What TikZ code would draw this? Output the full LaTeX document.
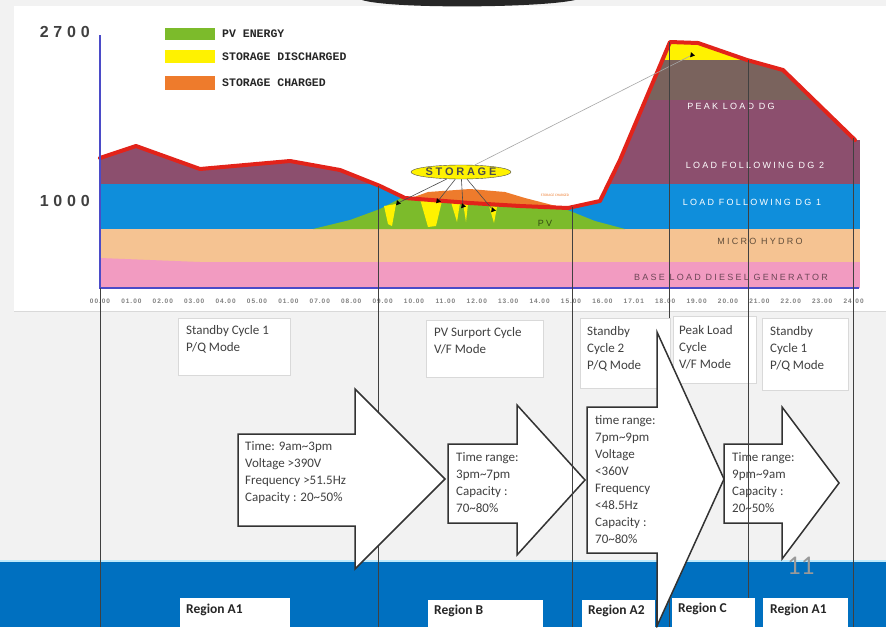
\documentclass[tikz,border=0pt]{standalone}
\usepackage{fontspec}
\setmainfont{Carlito}
\newfontfamily\chartfont[LetterSpace=25]{Liberation Sans}
\newfontfamily\numfont[LetterSpace=30]{Liberation Sans}
\newfontfamily\tickfont[LetterSpace=15]{Liberation Sans}
\newfontfamily\legfont{Liberation Mono}
\usetikzlibrary{shapes.geometric}
\definecolor{bggray}{HTML}{F2F2F2}
\definecolor{pvgreen}{HTML}{7CBB2B}
\definecolor{disyellow}{HTML}{FFF200}
\definecolor{chgorange}{HTML}{EE7B2C}
\definecolor{peakbrown}{HTML}{7A635D}
\definecolor{dgtwo}{HTML}{8C4F6E}
\definecolor{dgone}{HTML}{0F8EDB}
\definecolor{hydro}{HTML}{F5C392}
\definecolor{baseload}{HTML}{F29BC1}
\definecolor{loadred}{HTML}{E2231A}
\definecolor{axisblue}{HTML}{4B4BC8}
\definecolor{bandblue}{HTML}{0070C0}
\definecolor{txtgray}{HTML}{404040}

\begin{document}
\begin{tikzpicture}[x=1pt,y=-1pt,
  cycbox/.style={draw=black!15,fill=white,anchor=north west,inner sep=0},
  cyctext/.style={anchor=north west,align=left,inner sep=0,text=txtgray,font=\fontsize{13}{17}\selectfont},
  arrowbox/.style={draw=black!80,fill=white,line width=1.5pt,line join=miter},
  regbox/.style={fill=white,anchor=north west,inner sep=0},
  regtext/.style={anchor=north west,inner sep=0,text=black!85,font=\fontsize{13.5}{14}\selectfont\bfseries},
  marker/.style={regular polygon,regular polygon sides=3,shape border rotate=-100,fill=black,inner sep=0,minimum size=6pt},
  layer/.style={inner sep=0,font=\chartfont\fontsize{9}{10}\selectfont},
  leg/.style={anchor=west,inner sep=0,text=black!85,font=\legfont\fontsize{11.5}{12}\selectfont\bfseries},
  tick/.style={inner sep=0,text=black!50,font=\tickfont\fontsize{6.5}{7}\selectfont\bfseries},
  vline/.style={black!75,line width=0.9pt}]
\useasboundingbox (0,0) rectangle (886,627);
\fill[bggray] (0,0) rectangle (886,627);
\fill[white] (14,6) rectangle (886,311);
\draw[black!15] (14,311) -- (886,311);
\fill[black!85] (362,0) .. controls (390,9) and (540,8) .. (575,0) -- cycle;
\fill[bandblue] (0,562) rectangle (886,627);
\draw[cyan!25,line width=1.5pt] (0,561) -- (886,561);

\begin{scope}
\clip (100,288) -- (100,158) -- (136,146) -- (200,169) -- (290,161) -- (340,170) -- (380,186) -- (405,198) -- (470,203) -- (520,206) -- (568,208) -- (600,201) -- (620,160) -- (670,42) -- (698,43) -- (747,60) -- (783,70) -- (855,140) -- (860,140) -- (860,288) -- cycle;
\fill[disyellow] (600,20) rectangle (860,60);
\fill[peakbrown] (600,60) rectangle (860,130);
\fill[dgtwo] (100,100) rectangle (860,184);
\fill[dgone] (100,184) rectangle (860,229);
\fill[hydro] (100,229) rectangle (860,262);
\fill[baseload] (100,258) -- (200,262) -- (860,262) -- (860,288) -- (100,288) -- cycle;
\fill[pvgreen] (313,229) -- (350,220) -- (380,209) -- (405,196) -- (405,150) -- (555,150) -- (560,207) -- (595,221) -- (625,229) -- cycle;
\fill[disyellow] (384,206) -- (396,204) -- (392,226) -- (388,224) -- cycle;
\fill[disyellow] (420,199) -- (442,201) -- (436,226) -- (428,227) -- cycle;
\fill[disyellow] (451,202) -- (460,203) -- (457,222) -- cycle;
\fill[disyellow] (463,203) -- (468,204) -- (466,222) -- cycle;
\fill[disyellow] (489,206) -- (497,207) -- (494,223) -- cycle;
\end{scope}
\fill[chgorange] (414,197) -- (428,192) -- (470,189) -- (505,192) -- (525,198) -- (556,206) -- (520,206) -- (470,203) -- cycle;
\draw[loadred,line width=4pt,line join=round,line cap=round] (100,158) -- (136,146) -- (200,169) -- (290,161) -- (340,170) -- (380,186) -- (405,198) -- (470,203) -- (520,206) -- (568,208) -- (600,201) -- (620,160) -- (670,42) -- (698,43) -- (747,60) -- (783,70) -- (855,140);
\draw[axisblue,line width=2pt] (100,35) -- (100,288) -- (859,288);

\node[inner sep=0,anchor=east,text=black!75,font=\numfont\fontsize{16}{16}\selectfont\bfseries] (y2700) at (90,32) {2700};
\node[inner sep=0,anchor=east,text=black!75,font=\numfont\fontsize{16}{16}\selectfont\bfseries] (y1000) at (90,201) {1000};
\fill[pvgreen] (165,28) rectangle (215,40);
\fill[disyellow] (165,50) rectangle (215,63);
\fill[chgorange] (165,76) rectangle (215,90);
\node[leg] (lg1) at (222,34) {PV ENERGY};
\node[leg] (lg2) at (222,57) {STORAGE DISCHARGED};
\node[leg] (lg3) at (222,83) {STORAGE CHARGED};

\node[layer,text=white] (lpeak) at (731,106) {PEAK LOAD DG};
\node[layer,text=white] (ldg2) at (755,165) {LOAD FOLLOWING DG 2};
\node[layer,text=white] (ldg1) at (752,202) {LOAD FOLLOWING DG 1};
\node[layer,text=black!60!hydro] (lhydro) at (760,241) {MICRO HYDRO};
\node[layer,text=black!55!baseload] (lbase) at (731,277) {BASE LOAD DIESEL GENERATOR};
\node[layer,text=black!60!pvgreen] (lpv) at (545,223) {PV};
\node[inner sep=0,text=chgorange,font=\fontsize{3.5}{4}\selectfont] (lchg) at (555,195) {STORAGE CHARGED};

\foreach \t [count=\i from 0] in {00.00,01.00,02.00,03.00,04.00,05.00,01.00,07.00,08.00,09.00,10.00,11.00,12.00,13.00,14.00,15.00,16.00,17.01,18.00,19.00,20.00,21.00,22.00,23.00,24.00}
  \node[tick] (t\i) at (100+31.4*\i,301) {\t};

\node[marker] (m1) at (398,203) {};
\node[marker] (m2) at (438,201) {};
\node[marker] (m3) at (463,206) {};
\node[marker] (m4) at (493,210) {};
\node[marker] (m5) at (692,55) {};
\node[ellipse,draw=black!70,fill=disyellow,inner sep=0,minimum width=98pt,minimum height=14pt,text=black!70,font=\chartfont\fontsize{11}{11}\selectfont\bfseries] (stor) at (461,172) {STORAGE};
\draw[black!70,line width=0.6pt] (stor) -- (m1);
\draw[black!70,line width=0.6pt] (stor) -- (m2);
\draw[black!70,line width=0.6pt] (stor) -- (m3);
\draw[black!70,line width=0.6pt] (stor) -- (m4);
\draw[black!35,line width=0.6pt] (stor) -- (m5);

\foreach \x/\y in {100/288,378/186,669/42,853/138}
  \draw[vline] (\x,\y) -- (\x,627);

\node[cycbox,minimum width=112pt,minimum height=57pt] (cyc1) at (178,318) {};
\node[cycbox,minimum width=117pt,minimum height=57pt] (cyc2) at (426,320) {};
\node[cycbox,minimum width=90pt,minimum height=70pt] (cyc3) at (580,318) {};
\node[cycbox,minimum width=83pt,minimum height=67pt] (cyc4) at (673,316) {};
\node[cycbox,minimum width=86pt,minimum height=72pt] (cyc5) at (762,318) {};
\node[cyctext] (cyc1t) at ([shift={(8,7)}]cyc1.north west) {Standby Cycle 1\\P/Q Mode};
\node[cyctext] (cyc2t) at ([shift={(8,7)}]cyc2.north west) {PV Surport Cycle\\V/F Mode};
\node[cyctext] (cyc3t) at ([shift={(7,8)}]cyc3.north west) {Standby\\Cycle 2\\P/Q Mode};
\node[cyctext] (cyc4t) at ([shift={(6,9)}]cyc4.north west) {Peak Load\\Cycle\\V/F Mode};
\node[cyctext] (cyc5t) at ([shift={(8,8)}]cyc5.north west) {Standby\\Cycle 1\\P/Q Mode};

\draw[arrowbox] (238,434) -- (355,434) -- (355,389) -- (445,479) -- (355,569) -- (355,526) -- (238,526) -- cycle;
\draw[arrowbox] (448,444) -- (517,444) -- (517,405) -- (585,480) -- (517,555) -- (517,523) -- (448,523) -- cycle;
\draw[arrowbox] (587,407) -- (657,407) -- (657,332) -- (724,479) -- (657,626) -- (657,553) -- (587,553) -- cycle;
\draw[arrowbox] (724,444) -- (782,444) -- (782,407) -- (839,483) -- (782,559) -- (782,523) -- (724,523) -- cycle;
\node[cyctext] (a1t) at (245,441) {Time: 9am\textasciitilde3pm\\Voltage >390V\\Frequency >51.5Hz\\Capacity : 20\textasciitilde50\%};
\node[cyctext] (a2t) at (456,452) {Time range:\\3pm\textasciitilde7pm\\Capacity :\\70\textasciitilde80\%};
\node[cyctext] (a3t) at (595,415) {time range:\\7pm\textasciitilde9pm\\Voltage\\<360V\\Frequency\\<48.5Hz\\Capacity :\\70\textasciitilde80\%};
\node[cyctext] (a4t) at (732,452) {Time range:\\9pm\textasciitilde9am\\Capacity :\\20\textasciitilde50\%};

\draw[vline] (572,207) -- (572,627);
\draw[vline] (748,60) -- (748,627);

\node[regbox,minimum width=110pt,minimum height=29pt] (reg1) at (180,598) {};
\node[regbox,minimum width=115pt,minimum height=27pt] (reg2) at (428,600) {};
\node[regbox,minimum width=73pt,minimum height=27pt] (reg3) at (582,600) {};
\node[regbox,minimum width=83pt,minimum height=29pt] (reg4) at (672,598) {};
\node[regbox,minimum width=85pt,minimum height=29pt] (reg5) at (763,598) {};
\node[regtext] (reg1t) at ([shift={(6,6)}]reg1.north west) {Region A1};
\node[regtext] (reg2t) at ([shift={(6,5)}]reg2.north west) {Region B};
\node[regtext] (reg3t) at ([shift={(6,5)}]reg3.north west) {Region A2};
\node[regtext] (reg4t) at ([shift={(6,5)}]reg4.north west) {Region C};
\node[regtext] (reg5t) at ([shift={(7,6)}]reg5.north west) {Region A1};
\draw[arrowbox] (657,600) -- (657,627);
\node[anchor=north west,inner sep=0,text=black!40,font=\fontsize{27}{27}\selectfont] (pg) at (787,557) {11};
\end{tikzpicture}
\end{document}
